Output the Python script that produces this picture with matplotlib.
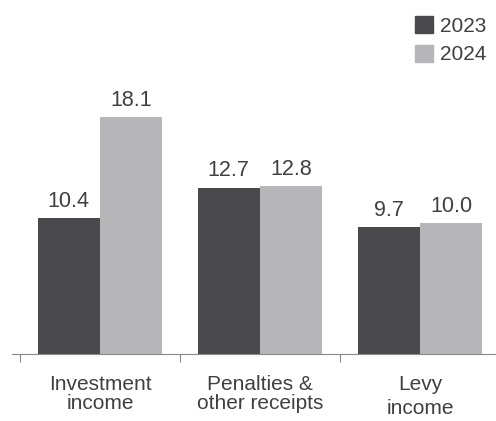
import numpy as np
import matplotlib.pyplot as plt
from matplotlib.patches import Patch
from matplotlib.transforms import blended_transform_factory

plt.rcParams['font.family'] = ['Liberation Sans', 'DejaVu Sans']

# Data
categories = ['Investment\nincome', 'Penalties &\nother receipts', 'Levy\nincome']
years = ['2023', '2024']
values_2023 = [10.4, 12.7, 9.7]
values_2024 = [18.1, 12.8, 10.0]

dark = '#4a4a4c'
light = '#b6b6b8'
txt = '#404040'

fig = plt.figure(figsize=(4.96, 4.21), dpi=100)
ax = fig.add_axes([12 / 496, 67 / 421, 484 / 496, 334 / 421])

x = np.arange(len(categories))
w = 0.39
b1 = ax.bar(x - w / 2, values_2023, w, color=dark)
b2 = ax.bar(x + w / 2, values_2024, w, color=light)

for bars, vals in [(b1, values_2023), (b2, values_2024)]:
    for r, v in zip(bars, vals):
        ax.annotate(f'{v:.1f}', (r.get_x() + r.get_width() / 2, v),
                    xytext=(0, 4.5), textcoords='offset points',
                    ha='center', va='bottom', fontsize=15.5, color=txt)

ax.set_xlim(-0.55, 2.475)
ax.set_ylim(0, 25.5)

for s in ['top', 'right', 'left']:
    ax.spines[s].set_visible(False)
ax.spines['bottom'].set_color('#8a8a8a')
ax.set_yticks([])
ax.set_xticks([-0.5, 0.5, 1.5])
ax.set_xticklabels([])
ax.tick_params(axis='x', length=6, color='#8a8a8a', direction='out')

trans = blended_transform_factory(ax.transData, fig.transFigure)
spacing = [1.0, 1.0, 1.3]
for xi, lab, ls in zip(x, categories, spacing):
    ax.text(xi, 1 - 375 / 421, lab, transform=trans, ha='center', va='top',
            fontsize=15, color=txt, linespacing=ls)

handles = [Patch(color=dark, label=years[0]), Patch(color=light, label=years[1])]
fig.legend(handles=handles, loc='upper left', bbox_to_anchor=(415 / 496, 1 - 16 / 421),
           frameon=False, fontsize=15, handlelength=0.85, handleheight=0.85,
           handletextpad=0.35, labelspacing=0.45, borderpad=0, borderaxespad=0,
           labelcolor=txt)

fig.savefig('out.png', dpi=100)
